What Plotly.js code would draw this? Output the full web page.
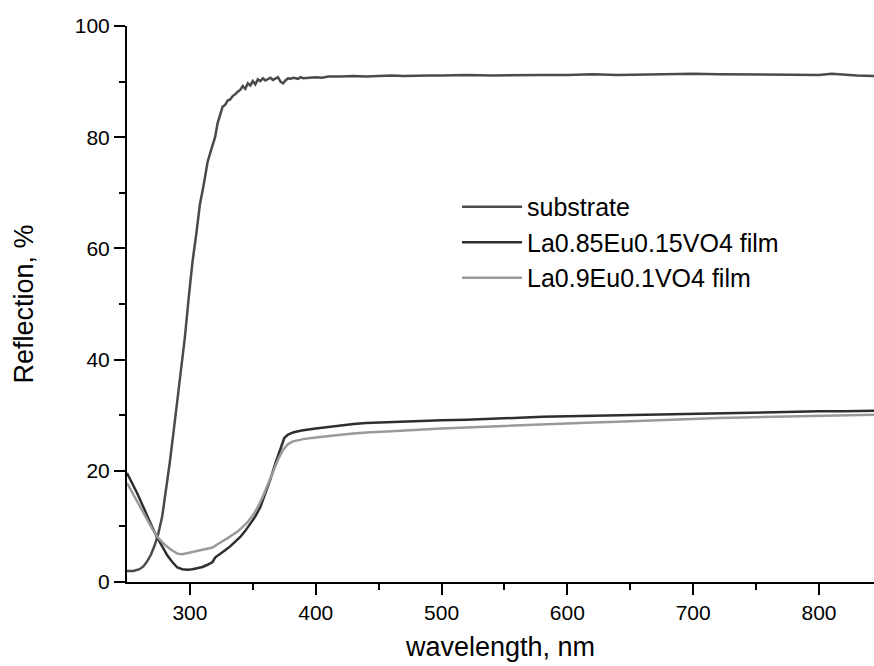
<!DOCTYPE html>
<html>
<head>
<meta charset="utf-8">
<script src="https://cdn.plot.ly/plotly-3.0.1.min.js"></script>
<style>html,body{margin:0;padding:0;background:#fff;}#chart{width:874px;height:666px;}</style>
</head>
<body>
<div id="chart"></div>
<script>
// Substrate
const subX = [250,255,260,263,266,269,272,275,278,281,284,287,290,293,296,299,302,305,308,311,314,317,320,322,324,326,328,330,332,334,336,338,340,342,344,346,348,350,352,354,356,358,360,362,364,366,368,370,372,374,376,378,380,382,384,386,388,390,395,400,405,410,420,430,440,450,460,470,480,490,500,520,540,560,580,600,620,640,660,680,700,720,740,760,780,800,810,820,830,844];
const subY = [2.0,2.0,2.3,2.8,3.7,4.9,6.6,8.8,11.8,16.5,21.5,27.0,32.5,37.5,44.0,51.0,57.5,62.5,68.0,71.5,75.5,77.8,80.0,82.5,84.0,85.5,85.8,86.6,86.8,87.4,87.7,88.2,88.5,89.2,88.7,89.7,89.3,90.1,89.5,90.4,90.1,90.6,90.2,90.4,90.7,90.3,90.5,90.8,90.0,89.7,90.2,90.6,90.5,90.7,90.6,90.5,90.8,90.6,90.7,90.8,90.7,90.9,90.9,91.0,90.9,91.0,91.1,91.0,91.1,91.1,91.1,91.2,91.1,91.2,91.2,91.2,91.3,91.2,91.3,91.3,91.4,91.3,91.3,91.2,91.3,91.2,91.4,91.2,91.1,91.0];

// La0.85Eu0.15VO4 film
const f1X = [250,254,258,262,266,270,274,278,282,286,290,294,298,302,306,310,314,318,320,324,328,332,336,340,344,348,352,356,360,364,368,372,375,378,382,386,390,400,410,420,430,440,460,480,500,520,540,560,580,600,620,640,660,680,700,720,740,760,780,800,820,844];
const f1Y = [19.6,17.9,16.0,14.0,11.8,9.9,8.0,6.3,4.8,3.6,2.6,2.3,2.2,2.3,2.5,2.7,3.1,3.6,4.4,5.0,5.7,6.4,7.2,8.1,9.2,10.4,11.8,13.5,15.9,18.5,21.4,24.0,25.9,26.5,26.9,27.1,27.3,27.6,27.9,28.2,28.4,28.6,28.8,29.0,29.1,29.2,29.4,29.6,29.7,29.8,29.9,30.0,30.1,30.2,30.3,30.4,30.5,30.5,30.6,30.7,30.7,30.8];

// La0.9Eu0.1VO4 film
const f2X = [250,255,260,265,270,275,280,285,290,294,298,302,306,310,314,318,322,326,330,334,338,342,346,350,354,358,362,366,370,374,378,382,386,390,400,410,420,430,440,460,480,500,520,540,560,580,600,620,640,660,680,700,720,740,760,780,800,820,844];
const f2Y = [17.8,15.8,13.7,11.6,9.6,7.9,6.7,5.8,5.1,5.0,5.2,5.4,5.6,5.7,5.9,6.2,6.8,7.3,7.9,8.5,9.1,9.9,10.8,12.0,13.5,15.4,17.6,19.8,22.0,23.8,24.8,25.3,25.5,25.7,26.0,26.3,26.5,26.7,26.9,27.1,27.4,27.6,27.8,28.0,28.2,28.4,28.5,28.7,28.8,29.0,29.2,29.3,29.5,29.6,29.7,29.8,29.9,30.0,30.1];

const names = ['substrate','La0.85Eu0.15VO4 film','La0.9Eu0.1VO4 film'];
const colors = ['#4a4a4a','#2e2e2e','#9a9a9a'];

const xTicks = [300,400,500,600,700,800];
const yTicks = [0,20,40,60,80,100];

const FONT = 'Liberation Sans, Arial, Helvetica, sans-serif';

const traces = [
  {x: subX, y: subY, name: names[0], mode:'lines', line:{color:colors[0], width:2.5}},
  {x: f1X, y: f1Y, name: names[1], mode:'lines', line:{color:colors[1], width:2.5}},
  {x: f2X, y: f2Y, name: names[2], mode:'lines', line:{color:colors[2], width:2.5}}
];

const layout = {
  width: 874, height: 666,
  margin: {l:127, r:0, t:26, b:84, pad:0},
  paper_bgcolor:'#ffffff', plot_bgcolor:'#ffffff',
  font: {family: FONT, color:'#000', size:21},
  showlegend: true,
  legend: {x:0.482, y:0.716, xanchor:'left', yanchor:'top', bgcolor:'rgba(0,0,0,0)', borderwidth:0,
           font:{family:FONT, size:25, color:'#000'}, tracegroupgap:0},
  xaxis: {
    range:[250, 843.7], showgrid:false, zeroline:false,
    showline:true, linecolor:'#000', linewidth:2,
    ticks:'outside', ticklen:11, tickwidth:2, tickcolor:'#000',
    tickmode:'array', tickvals:xTicks, ticktext:xTicks.map(String),
    tickfont:{family:FONT, size:21, color:'#000'},
    minor:{tickmode:'array', tickvals:[350,450,550,650,750], ticks:'outside', ticklen:6, tickwidth:2, tickcolor:'#000', showgrid:false},
    title:{text:'wavelength, nm', font:{family:FONT, size:27, color:'#000'}, standoff:14}
  },
  yaxis: {
    range:[0,100], showgrid:false, zeroline:false,
    showline:true, linecolor:'#000', linewidth:2,
    ticks:'outside', ticklen:11, tickwidth:2, tickcolor:'#000',
    tickmode:'array', tickvals:yTicks, ticktext:yTicks.map(String),
    tickfont:{family:FONT, size:21, color:'#000'},
    minor:{tickmode:'array', tickvals:[10,30,50,70,90], ticks:'outside', ticklen:6, tickwidth:2, tickcolor:'#000', showgrid:false},
    title:{text:'Reflection, %', font:{family:FONT, size:27, color:'#000'}, standoff:33}
  }
};

function longLegendLines(gd){
  gd.querySelectorAll('.legend .scrollbox').forEach(function(s){ s.removeAttribute('clip-path'); });
  gd.querySelectorAll('.legend').forEach(function(s){ s.removeAttribute('clip-path'); });
  gd.querySelectorAll('.legendlines path').forEach(function(p){ p.setAttribute('d','M-25,0h60'); });
}

Plotly.newPlot('chart', traces, layout, {staticPlot:true, displayModeBar:false}).then(function(gd){
  longLegendLines(gd);
  setTimeout(function(){ longLegendLines(gd); }, 50);
});
</script>
</body>
</html>
